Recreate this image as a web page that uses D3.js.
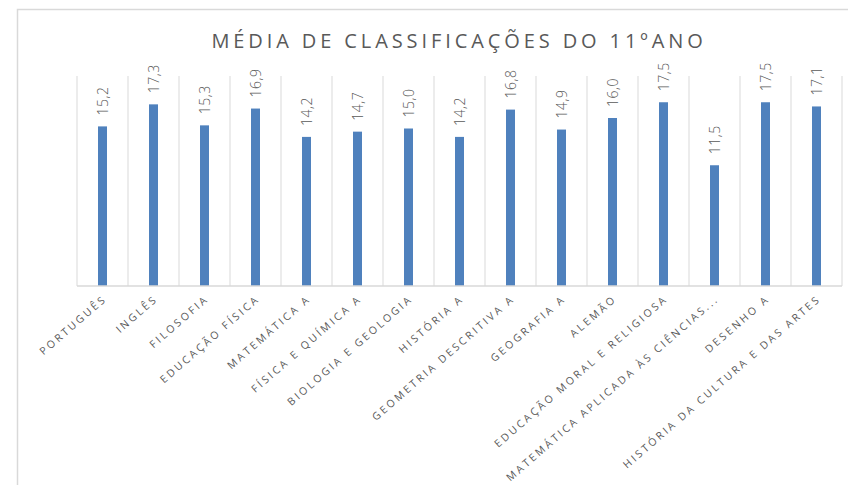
<!DOCTYPE html>
<html>
<head>
<meta charset="utf-8">
<script src="https://cdn.jsdelivr.net/npm/d3@7"></script>
<style>
  body { margin: 0; background: #fff; }
  svg { display: block; }
</style>
</head>
<body>
<svg width="848" height="485"></svg>
<script>
// data
var disciplinas = ["Português", "Inglês", "Filosofia", "Educação Física", "Matemática A",
  "Física e Química A", "Biologia e Geologia", "História A", "Geometria Descritiva A",
  "Geografia A", "Alemão", "Educação Moral e Religiosa", "Matemática Aplicada às Ciências...",
  "Desenho A", "História da Cultura e das Artes"];
var medias = [15.2, 17.3, 15.3, 16.9, 14.2, 14.7, 15.0, 14.2, 16.8, 14.9, 16.0, 17.5, 11.5, 17.5, 17.1];
var titulo = "MÉDIA DE CLASSIFICAÇÕES DO 11ºANO";

var data = disciplinas.map(function(d, i) { return { nome: d, valor: medias[i] }; });

var svg = d3.select("svg"),
    width = +svg.attr("width"),
    height = +svg.attr("height");

var fmt = function(v) { return d3.format(".1f")(v).replace(".", ","); };

// chart frame (runs off the right and bottom of the picture)
svg.append("rect")
    .attr("x", 17.5).attr("y", 9.5)
    .attr("width", 900).attr("height", 520)
    .attr("fill", "#fff")
    .attr("stroke", "#d9d9d9")
    .attr("stroke-width", 1.5);

svg.append("text")
    .attr("x", 459)
    .attr("y", 48)
    .attr("text-anchor", "middle")
    .attr("font-family", "'Open Sans', sans-serif")
    .attr("font-size", 20)
    .attr("letter-spacing", 3.9)
    .attr("fill", "#595959")
    .text(titulo);

var x = d3.scaleBand()
    .domain(disciplinas)
    .range([77, 842])
    .padding(0);

var y = d3.scaleLinear()
    .domain([0, 20])
    .range([286, 76]);

// vertical gridlines at category boundaries
var bounds = disciplinas.map(function(d) { return x(d); }).concat([x.range()[1]]);
svg.append("g")
    .selectAll("line")
    .data(bounds)
    .enter().append("line")
    .attr("x1", function(d) { return d; })
    .attr("x2", function(d) { return d; })
    .attr("y1", y(20))
    .attr("y2", y(0))
    .attr("stroke", "#d9d9d9")
    .attr("stroke-width", 1);

var barW = 9;
svg.append("g")
    .selectAll("rect")
    .data(data)
    .enter().append("rect")
    .attr("x", function(d) { return x(d.nome) + x.bandwidth() / 2 - barW / 2; })
    .attr("y", function(d) { return y(d.valor); })
    .attr("width", barW)
    .attr("height", function(d) { return y(0) - y(d.valor); })
    .attr("fill", "#4f81bd");

// category axis line
svg.append("line")
    .attr("x1", x.range()[0]).attr("x2", x.range()[1])
    .attr("y1", y(0)).attr("y2", y(0))
    .attr("stroke", "#d9d9d9")
    .attr("stroke-width", 1.5);

// value labels, rotated
svg.append("g")
    .selectAll("text")
    .data(data)
    .enter().append("text")
    .attr("transform", function(d) {
      var cx = x(d.nome) + x.bandwidth() / 2 + 5;
      return "translate(" + cx + "," + (y(d.valor) - 11) + ") rotate(-90)";
    })
    .attr("font-family", "'Open Sans', sans-serif")
    .attr("font-weight", 300)
    .attr("font-size", 14)
    .attr("letter-spacing", 0.5)
    .attr("fill", "#595959")
    .text(function(d) { return fmt(d.valor); });

// category labels, slanted
svg.append("g")
    .selectAll("text")
    .data(data)
    .enter().append("text")
    .attr("transform", function(d) {
      var cx = x(d.nome) + x.bandwidth() / 2 + 5;
      return "translate(" + cx + ",300) rotate(-41)";
    })
    .attr("text-anchor", "end")
    .attr("font-family", "'Open Sans', sans-serif")
    .attr("font-size", 10.5)
    .attr("letter-spacing", 2.6)
    .attr("fill", "#595959")
    .text(function(d) { return d.nome.toUpperCase(); });
</script>
</body>
</html>
